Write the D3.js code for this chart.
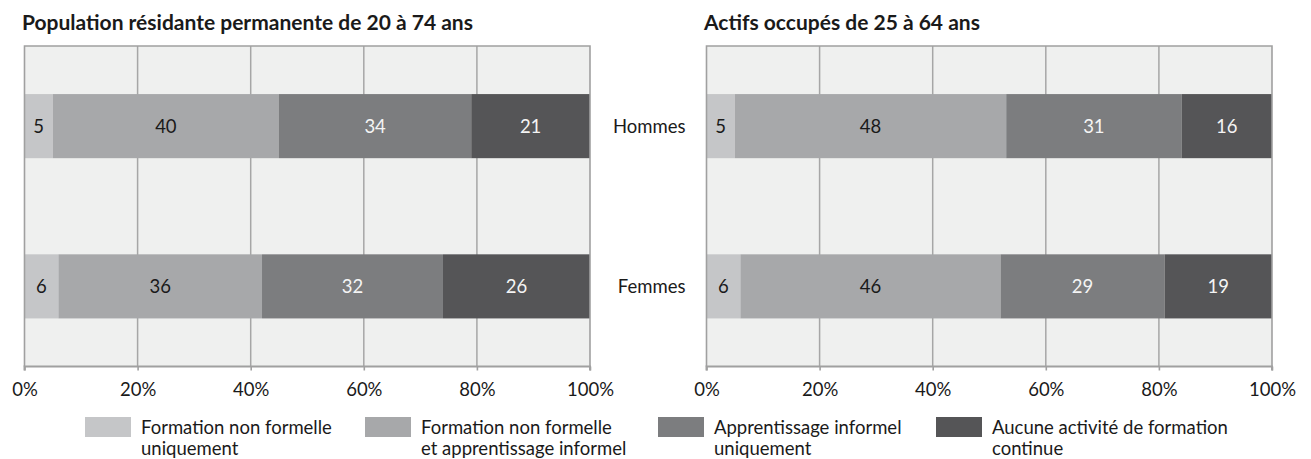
<!DOCTYPE html>
<html><head><meta charset="utf-8">
<script src="https://cdn.jsdelivr.net/npm/d3@7"></script>
<style>
body{margin:0;background:#fff;}
text{font-family:Lato,"Open Sans",sans-serif;}
</style></head>
<body>
<svg id="c" width="1311" height="459"></svg>
<script>
const categories = ["Hommes", "Femmes"];
const seriesNames = ["Formation non formelle uniquement", "Formation non formelle et apprentissage informel", "Apprentissage informel uniquement", "Aucune activité de formation continue"];
const legendLines = [["Formation non formelle", "uniquement"], ["Formation non formelle", "et apprentissage informel"], ["Apprentissage informel", "uniquement"], ["Aucune activité de formation", "continue"]];
const panelTitles = ["Population résidante permanente de 20 à 74 ans", "Actifs occupés de 25 à 64 ans"];
const popHommes = [5, 40, 34, 21];
const popFemmes = [6, 36, 32, 26];
const actHommes = [5, 48, 31, 16];
const actFemmes = [6, 46, 29, 19];
const tickValues = [0, 20, 40, 60, 80, 100];
const tickLabels = ["0%", "20%", "40%", "60%", "80%", "100%"];

const colors = ["#c5c6c8", "#a7a8aa", "#7c7d7f", "#555557"];
const textColors = ["#1a1a1a", "#1a1a1a", "#f4f4f4", "#f4f4f4"];
const FS = 18.5;

const svg = d3.select("#c");
const panels = [
  {title: panelTitles[0], data: [popHommes, popFemmes], x0: 24.5, x1: 590, showCats: false},
  {title: panelTitles[1], data: [actHommes, actFemmes], x0: 706.5, x1: 1272, showCats: true}
];
const plotTop = 46, plotBottom = 366.5;

panels.forEach(p => {
  const x = d3.scaleLinear().domain([0, 100]).range([p.x0, p.x1]);
  const y = d3.scaleBand().domain(categories).range([plotTop, plotBottom]).paddingInner(0.6).paddingOuter(0.3);
  const g = svg.append("g");
  g.append("text").attr("x", p.x0 - 2.5).attr("y", 29.5).attr("font-size", 21).attr("font-weight", 700)
    .attr("fill", "#1a1a1a").text(p.title);
  g.append("rect").attr("x", p.x0).attr("y", plotTop).attr("width", p.x1 - p.x0).attr("height", plotBottom - plotTop)
    .attr("fill", "#eff0ef");
  g.selectAll(".grid").data(tickValues.slice(1, -1)).join("line")
    .attr("x1", d => x(d)).attr("x2", d => x(d)).attr("y1", plotTop).attr("y2", plotBottom)
    .attr("stroke", "#a6a6a6").attr("stroke-width", 1.5);
  categories.forEach((c, ci) => {
    const vals = p.data[ci];
    let acc = 0;
    const segs = vals.map((v, i) => { const s = {v, i, a: acc, b: acc + v}; acc += v; return s; });
    const bg = g.append("g");
    bg.selectAll("rect").data(segs).join("rect")
      .attr("x", d => x(d.a)).attr("width", d => x(d.b) - x(d.a))
      .attr("y", y(c)).attr("height", y.bandwidth())
      .attr("fill", d => colors[d.i]);
    bg.selectAll("text").data(segs).join("text")
      .attr("x", d => (x(d.a) + x(d.b)) / 2).attr("y", y(c) + y.bandwidth() / 2)
      .attr("dy", "0.36em").attr("text-anchor", "middle").attr("font-size", FS)
      .attr("fill", d => textColors[d.i]).text(d => d.v);
    if (p.showCats) {
      g.append("text").attr("x", p.x0 - 21).attr("y", y(c) + y.bandwidth() / 2).attr("dy", "0.36em")
        .attr("text-anchor", "end").attr("font-size", FS).attr("fill", "#1a1a1a").text(c);
    }
  });
  g.append("path").attr("d", `M${p.x0},${plotBottom}V${plotTop}H${p.x1}V${plotBottom}`)
    .attr("fill", "none").attr("stroke", "#a0a0a0").attr("stroke-width", 1.6);
  const axis = d3.axisBottom(x).tickValues(tickValues).tickFormat((d, i) => tickLabels[i]).tickSize(4).tickPadding(12);
  const ag = g.append("g").attr("transform", `translate(0,${plotBottom})`).call(axis);
  ag.select(".domain").attr("stroke", "#a0a0a0").attr("stroke-width", 2).attr("d", `M${p.x0},4V0H${p.x1}V4`);
  ag.selectAll(".tick line").attr("stroke", "#a0a0a0").attr("stroke-width", 1.6);
  ag.selectAll(".tick text").attr("font-size", FS).attr("fill", "#1a1a1a")
    .attr("font-family", 'Lato,"Open Sans",sans-serif');
});

const legendX = [85, 365, 658, 936];
const lg = svg.append("g");
legendLines.forEach((lines, i) => {
  const gi = lg.append("g").attr("transform", `translate(${legendX[i]},0)`);
  gi.append("rect").attr("x", 0).attr("y", 417).attr("width", 46).attr("height", 20).attr("fill", colors[i]);
  gi.selectAll("text").data(lines).join("text")
    .attr("x", 56).attr("y", (d, k) => 433.5 + k * 21).attr("font-size", FS).attr("fill", "#1a1a1a").text(d => d);
});
</script>
</body></html>
